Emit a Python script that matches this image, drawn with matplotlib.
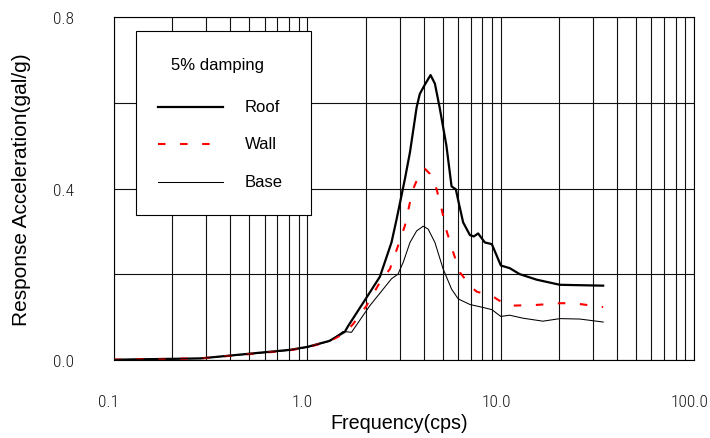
import matplotlib
matplotlib.use("Agg")
import matplotlib.pyplot as plt
from matplotlib.patches import Rectangle
from matplotlib.lines import Line2D
from matplotlib.transforms import ScaledTranslation
import numpy as np

# ---- data ----
roof_f = [0.1, 0.28, 0.5, 0.81, 1.0, 1.3, 1.56, 1.62, 2.0, 2.37, 2.72, 2.89, 3.19, 3.39, 3.67,
          3.81, 4.05, 4.33, 4.56, 4.84, 5.23, 5.56, 5.85, 6.02, 6.38, 6.92, 7.25,
          7.63, 8.26, 8.98, 10.0, 11.1, 12.5, 15.3, 20.2, 33.8]
roof_v = [0.0, 0.003, 0.014, 0.023, 0.030, 0.044, 0.065, 0.078, 0.142, 0.194, 0.274, 0.328, 0.422,
          0.485, 0.590, 0.621, 0.643, 0.665, 0.645, 0.586, 0.500, 0.405, 0.398,
          0.372, 0.321, 0.291, 0.288, 0.295, 0.274, 0.270, 0.220, 0.214, 0.200, 0.187, 0.175, 0.173]

wall_f = [0.1, 0.28, 0.5, 0.81, 1.0, 1.3, 1.56, 1.72, 2.02, 2.37, 2.67, 2.94, 3.19, 3.39, 3.52,
          3.67, 4.05, 4.30, 4.65, 4.94, 5.24, 5.67, 6.14, 7.06, 7.50, 9.12, 9.5, 10.9, 15.3,
          20.2, 23.7, 33.8]
wall_v = [0.0, 0.003, 0.013, 0.022, 0.029, 0.043, 0.062, 0.083, 0.126, 0.181, 0.212, 0.266, 0.313,
          0.368, 0.399, 0.418, 0.446, 0.434, 0.399, 0.352, 0.301, 0.251, 0.204, 0.169, 0.159,
          0.148, 0.142, 0.126, 0.128, 0.132, 0.132, 0.123]

base_f = [0.1, 0.28, 0.5, 0.81, 1.0, 1.3, 1.53, 1.69, 2.10, 2.72, 2.94, 3.13, 3.39, 3.67, 3.97,
          4.21, 4.56, 5.03, 5.56, 6.02, 6.92, 8.10, 8.98, 10.0, 11.1, 13.0, 16.5, 20.2, 25.6, 33.8]
base_v = [0.0, 0.003, 0.013, 0.022, 0.029, 0.043, 0.066, 0.064, 0.126, 0.189, 0.200, 0.228, 0.274,
          0.301, 0.312, 0.305, 0.274, 0.212, 0.165, 0.142, 0.129, 0.122, 0.117, 0.101, 0.104,
          0.097, 0.090, 0.096, 0.095, 0.088]

series_labels = ["Roof", "Wall", "Base"]
legend_title = "5% damping"
x_ticks = [0.1, 1.0, 10.0, 100.0]
x_ticklabels = ["0.1", "1.0", "10.0", "100.0"]
y_ticks = [0.0, 0.4, 0.8]
y_ticklabels = ["0.0", "0.4", "0.8"]
y_minor = [0.2, 0.6]

# ---- figure ----
fig = plt.figure(figsize=(7.10, 4.39), dpi=100)
ax = fig.add_axes([114/710, 1 - 360.7/439, 580.3/710, 342.4/439])

main_font = ["Liberation Sans", "DejaVu Sans"]
tick_font = ["Roboto Condensed", "Liberation Sans", "DejaVu Sans"]

styles = [dict(color="black", lw=1.6, ls="-"),
          dict(color="#ff0000", lw=1.5, ls=(0, (3.6, 7.0))),
          dict(color="black", lw=0.75, ls="-")]
data = [(roof_f, roof_v), (wall_f, wall_v), (base_f, base_v)]
for (f, v), st in zip(data, styles):
    ax.plot(f, v, zorder=3, **st)

ax.set_xscale("log")
ax.set_xlim(0.1, 100)
ax.set_ylim(0, 0.8)
ax.set_xticks(x_ticks)
ax.set_xticklabels(x_ticklabels)
ax.xaxis.set_minor_locator(matplotlib.ticker.LogLocator(base=10, subs=np.arange(2, 10)))
ax.xaxis.set_minor_formatter(matplotlib.ticker.NullFormatter())
ax.set_yticks(y_ticks)
ax.set_yticklabels(y_ticklabels)
ax.set_yticks(y_minor, minor=True)

ax.grid(True, which="both", color="#111111", lw=0.8, zorder=0)
ax.set_axisbelow(True)
ax.tick_params(axis="both", which="both", length=0)
ax.tick_params(axis="x", pad=25.0)
ax.tick_params(axis="y", pad=28.5)
for lab in ax.get_xticklabels() + ax.get_yticklabels():
    lab.set_fontfamily(tick_font)
    lab.set_fontsize(12.5)
    lab.set_fontweight("light")
    lab.set_color("#1a1a1a")
for lab in ax.get_xticklabels():
    lab.set_transform(lab.get_transform() + ScaledTranslation(-0.05, 0, fig.dpi_scale_trans))
for s in ax.spines.values():
    s.set_color("black")
    s.set_linewidth(0.8)

ax.set_xlabel("Frequency(cps)", fontsize=14.2, family=main_font)
ax.set_ylabel("Response Acceleration(gal/g)", fontsize=15, family=main_font)
ax.xaxis.set_label_coords(0.491, -0.155)
ax.yaxis.set_label_coords(-0.143, 0.5)

# ---- legend box (drawn in axes fraction) ----
box = Rectangle((0.0379, 0.4226), 0.339 - 0.0379, 0.961 - 0.4226, transform=ax.transAxes,
                facecolor="white", edgecolor="black", lw=0.8, zorder=5)
ax.add_patch(box)
ax.text(0.0982, 0.8636, legend_title, transform=ax.transAxes, ha="left", va="center",
        fontsize=12, family=main_font, zorder=6)
rows_y = [0.739, 0.630, 0.520]
for lab, st, yy in zip(series_labels, styles, rows_y):
    ax.add_line(Line2D([0.0758, 0.1878], [yy, yy], transform=ax.transAxes, zorder=6, **st))
    ax.text(0.2257, yy, lab, transform=ax.transAxes, ha="left", va="center",
            fontsize=12, family=main_font, zorder=6)

fig.savefig("out.png", dpi=100)
